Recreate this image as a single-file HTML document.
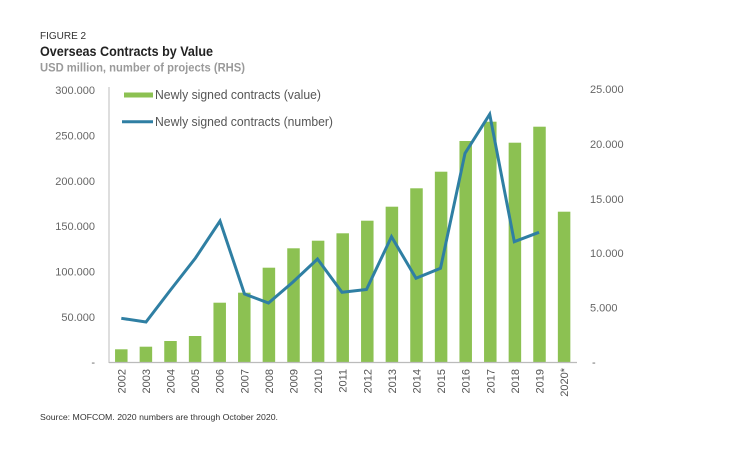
<!DOCTYPE html>
<html><head><meta charset="utf-8"><style>
html,body{margin:0;padding:0;background:#fff;}
svg{display:block;}
text{font-family:"Liberation Sans",sans-serif;}
</style></head><body>
<svg width="730" height="453" viewBox="0 0 730 453" xmlns="http://www.w3.org/2000/svg">
<rect width="730" height="453" fill="#fff"/>
<text x="40" y="39" font-size="10" fill="#333">FIGURE 2</text>
<text x="40" y="56" font-size="14" font-weight="bold" fill="#222" textLength="173" lengthAdjust="spacingAndGlyphs">Overseas Contracts by Value</text>
<text x="40" y="71.5" font-size="12" font-weight="bold" fill="#9a9a9a" textLength="205" lengthAdjust="spacingAndGlyphs">USD million, number of projects (RHS)</text>

<g font-size="11" fill="#666" text-anchor="end">
<text x="95" y="94">300.000</text>
<text x="95" y="139.5">250.000</text>
<text x="95" y="185">200.000</text>
<text x="95" y="230">150.000</text>
<text x="95" y="275.5">100.000</text>
<text x="95" y="321">50.000</text>
<text x="95" y="366">-</text>
</g>
<g font-size="11" fill="#666">
<text x="590" y="93">25.000</text>
<text x="590" y="148">20.000</text>
<text x="590" y="203">15.000</text>
<text x="590" y="257">10.000</text>
<text x="590" y="311.5">5.000</text>
<text x="592" y="366">-</text>
</g>

<line x1="109" y1="87" x2="109" y2="363" stroke="#c8c8c8" stroke-width="1.2"/>

<g fill="#8cc152">
<rect x="115.05" y="349.3" width="12.5" height="13.2"/>
<rect x="139.65" y="346.7" width="12.5" height="15.8"/>
<rect x="164.25" y="341" width="12.5" height="21.5"/>
<rect x="188.85" y="336" width="12.5" height="26.5"/>
<rect x="213.45" y="302.7" width="12.5" height="59.8"/>
<rect x="238.05" y="292.7" width="12.5" height="69.8"/>
<rect x="262.65" y="267.7" width="12.5" height="94.8"/>
<rect x="287.25" y="248.3" width="12.5" height="114.2"/>
<rect x="311.85" y="240.7" width="12.5" height="121.8"/>
<rect x="336.45" y="233.3" width="12.5" height="129.2"/>
<rect x="361.05" y="220.7" width="12.5" height="141.8"/>
<rect x="385.65" y="206.7" width="12.5" height="155.8"/>
<rect x="410.25" y="188.3" width="12.5" height="174.2"/>
<rect x="434.85" y="171.7" width="12.5" height="190.8"/>
<rect x="459.45" y="141" width="12.5" height="221.5"/>
<rect x="484.05" y="121.7" width="12.5" height="240.8"/>
<rect x="508.65" y="142.7" width="12.5" height="219.8"/>
<rect x="533.25" y="126.7" width="12.5" height="235.8"/>
<rect x="557.85" y="211.7" width="12.5" height="150.8"/>
</g>

<line x1="109" y1="362.5" x2="577" y2="362.5" stroke="#bbb" stroke-width="1.2"/>

<polyline fill="none" stroke="#2f7fa3" stroke-width="3" stroke-linejoin="miter"
points="121.3,318.3 146,322 170.5,290 195.5,258 220,221 244.5,294 268.5,303 293,282 317.5,259 342,292.3 366.5,289.5 391.5,236.7 416,278.3 440.5,268.3 465,153.3 489.7,114.3 514.3,241.7 539,232.3"/>

<rect x="124" y="92.5" width="29" height="5" fill="#8cc152"/>
<text x="155" y="99" font-size="12.5" fill="#555" textLength="166" lengthAdjust="spacingAndGlyphs">Newly signed contracts (value)</text>
<line x1="122" y1="121.7" x2="153" y2="121.7" stroke="#2f7fa3" stroke-width="3"/>
<text x="155" y="126" font-size="12.5" fill="#555" textLength="178" lengthAdjust="spacingAndGlyphs">Newly signed contracts (number)</text>

<g font-size="11" fill="#555" text-anchor="end">
<text transform="translate(125.3,369) rotate(-90)">2002</text>
<text transform="translate(149.9,369) rotate(-90)">2003</text>
<text transform="translate(174.5,369) rotate(-90)">2004</text>
<text transform="translate(199.1,369) rotate(-90)">2005</text>
<text transform="translate(223.7,369) rotate(-90)">2006</text>
<text transform="translate(248.3,369) rotate(-90)">2007</text>
<text transform="translate(272.9,369) rotate(-90)">2008</text>
<text transform="translate(297.5,369) rotate(-90)">2009</text>
<text transform="translate(322.1,369) rotate(-90)">2010</text>
<text transform="translate(346.7,369) rotate(-90)">2011</text>
<text transform="translate(371.3,369) rotate(-90)">2012</text>
<text transform="translate(395.9,369) rotate(-90)">2013</text>
<text transform="translate(420.5,369) rotate(-90)">2014</text>
<text transform="translate(445.1,369) rotate(-90)">2015</text>
<text transform="translate(469.7,369) rotate(-90)">2016</text>
<text transform="translate(494.3,369) rotate(-90)">2017</text>
<text transform="translate(518.9,369) rotate(-90)">2018</text>
<text transform="translate(543.5,369) rotate(-90)">2019</text>
<text transform="translate(568.1,368) rotate(-90)">2020*</text>
</g>

<text x="40" y="420" font-size="8.5" fill="#333" textLength="238" lengthAdjust="spacingAndGlyphs">Source: MOFCOM. 2020 numbers are through October 2020.</text>
</svg>
</body></html>
